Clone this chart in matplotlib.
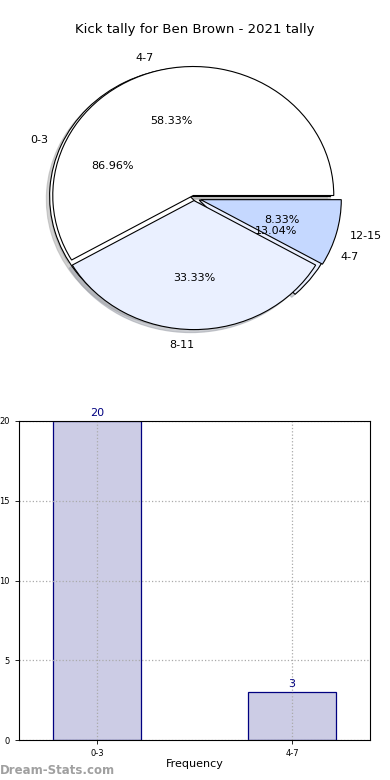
import matplotlib
matplotlib.use("Agg")
import matplotlib.pyplot as plt

title = "Kick tally for Ben Brown - 2021 tally"

# inner pie (frequency groups)
pie1_labels = ["0-3", "4-7"]
pie1_values = [20, 3]

# outer pie (distance groups)
pie2_labels = ["4-7", "8-11", "12-15"]
pie2_values = [7, 4, 1]

# bar chart
bar_labels = ["0-3", "4-7"]
bar_values = [20, 3]

W, H = 390, 780
fig = plt.figure(figsize=(W / 100, H / 100), dpi=100)

# ---- pie ----
cx, cy, rx, ry = 194, 198, 140.5, 129
axp = fig.add_axes([(cx - 1.25 * rx) / W, (H - cy - 1.25 * ry) / H,
                    2.5 * rx / W, 2.5 * ry / H])
wp = dict(edgecolor="black", linewidth=0.8)
colors = ["white", "#eaf0ff", "#c5d8ff"]
shadow = dict(shade=0.35, ox=-0.017, oy=-0.017)
axp.pie(pie1_values, labels=pie1_labels, autopct="%.2f%%", shadow=shadow,
        explode=[0.03, 0.04], colors=colors[:2], wedgeprops=wp,
        textprops=dict(fontsize=8))
_, t2, _ = axp.pie(pie2_values, labels=pie2_labels, autopct="%.2f%%",
                   shadow=shadow, explode=[0.02, 0.02, 0.05], colors=colors,
                   wedgeprops=wp, textprops=dict(fontsize=8))
t2[1].set_ha("right")
t2[1].set_y(t2[1].get_position()[1] - 0.02)
axp.set_aspect("auto")
axp.set_xlim(-1.25, 1.25)
axp.set_ylim(-1.25, 1.25)
axp.axis("off")

fig.text(0.5, 1 - 30 / H, title, ha="center", va="center", fontsize=9.5)

# ---- bars ----
axb = fig.add_axes([19 / W, 40 / H, 351 / W, 319 / H])
xs = list(range(len(bar_labels)))
axb.bar(xs, bar_values, width=0.45, color="#ccccE5", edgecolor="#000080",
        linewidth=0.9, zorder=1)
for x, v in zip(xs, bar_values):
    axb.text(x, v + 0.2, str(v), ha="center", va="bottom", fontsize=8,
             color="#000080", zorder=4)
axb.set_xlim(-0.4, 1.4)
axb.set_ylim(0, 20)
axb.set_xticks(xs)
axb.set_xticklabels(bar_labels)
axb.set_yticks([0, 5, 10, 15, 20])
axb.tick_params(labelsize=6, length=3, width=0.6)
axb.set_axisbelow("line")
axb.grid(True, linestyle=":", color="#aaaaaa", linewidth=0.9)
for s in axb.spines.values():
    s.set_linewidth(0.8)
    s.set_zorder(3)
axb.set_xlabel("Frequency", fontsize=8, labelpad=1)
axb.set_ylabel("Distance in Metres", fontsize=7)
axb.yaxis.set_label_coords(-0.058, 0.5)

fig.text(0.0, 1 - 770 / H, "Dream-Stats.com", ha="left", va="center",
         fontsize=8.5, color="#a0a0a0", fontweight="bold")

fig.savefig("out.png", dpi=100)
